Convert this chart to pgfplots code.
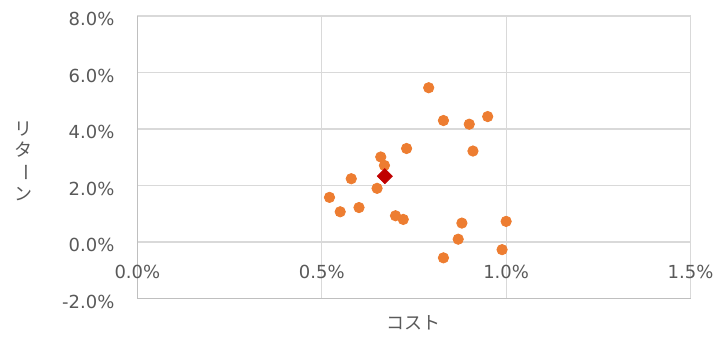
\documentclass[border=0pt]{standalone}
\usepackage{pgfplots}
\pgfplotsset{compat=1.18}
\usepackage{graphicx}
\usepackage{fontspec}
\setmainfont{Noto Sans CJK JP}
\newfontfamily\tickfont{DejaVu Sans}
\definecolor{orng}{HTML}{ED7D31}
\definecolor{dred}{HTML}{C00000}
\definecolor{gridc}{HTML}{D9D9D9}
\definecolor{axc}{HTML}{BFBFBF}
\definecolor{txt}{HTML}{595959}
\begin{document}
\begin{tikzpicture}
\begin{axis}[
  name=ax,
  scale only axis,
  width=277pt, height=141.5pt,
  xmin=0, xmax=1.5, ymin=-2, ymax=8,
  xtick={0,0.5,1,1.5},
  ytick={-2,0,2,4,6,8},
  grid=major,
  major grid style={color=gridc, line width=0.6pt},
  axis x line*=bottom, axis y line*=left,
  axis line style={color=axc, line width=0.6pt, -},
  major tick length=0pt,
  /pgf/number format/assume math mode=true,
  font=\fontsize{9pt}{10pt}\selectfont,
  tick label style={color=txt, font=\tickfont\fontsize{9pt}{10pt}\selectfont},
  xticklabel={\pgfmathprintnumber[fixed,fixed zerofill,precision=1]{\tick}\%},
  yticklabel={\pgfmathprintnumber[fixed,fixed zerofill,precision=1]{\tick}\%},
  xticklabel style={anchor=center, yshift=13.5pt},
  yticklabel style={anchor=east, xshift=-8pt, yshift=-1.5pt},
  xlabel={コスト},
  xlabel style={at={(axis description cs:0.5,0)}, anchor=center, yshift=-12pt, color=txt},
  ylabel={\shortstack{リ\\タ\\\rotatebox{-90}{ー}\\ン}},
  ylabel style={at={(axis description cs:0,0.5)}, anchor=center, rotate=-90, xshift=-57pt, yshift=-2pt, color=txt},
  clip=false,
]
\addplot[only marks, mark=*, mark size=2.6pt, color=orng, mark options={fill=orng, draw=orng}] coordinates {
(0.790,5.46) (0.830,4.30) (0.900,4.17) (0.950,4.44) (0.730,3.31)
(0.910,3.22) (0.660,3.01) (0.670,2.71) (0.580,2.24) (0.650,1.90)
(0.521,1.58) (0.550,1.07) (0.601,1.22) (0.700,0.93) (0.721,0.80)
(0.880,0.67) (1.000,0.73) (0.870,0.10) (0.989,-0.27) (0.830,-0.56)
};
\addplot[only marks, mark=square*, mark size=2.65pt, color=dred, mark options={fill=dred, draw=dred, rotate=45}] coordinates {(0.671,2.33)};
\end{axis}
\path ([xshift=-68.8pt,yshift=-18.5pt]ax.south west) rectangle ([xshift=14.6pt,yshift=8pt]ax.north east);
\end{tikzpicture}
\end{document}
